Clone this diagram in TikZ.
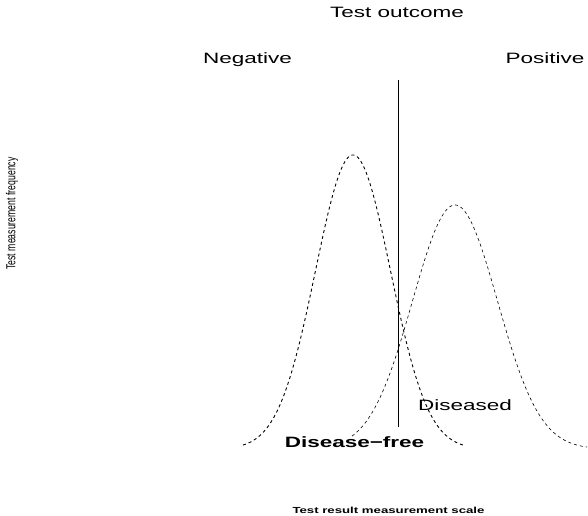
\documentclass[tikz,border=0pt]{standalone}
\usepackage{fontspec}
\setmainfont{Liberation Sans}
\usepackage{graphicx}
\tikzset{
  lbl/.style={inner sep=0pt, anchor=base},
  curveA/.style={line width=0.9pt, dash pattern=on 3pt off 3pt},
  curveB/.style={line width=0.6pt, dash pattern=on 3pt off 3pt},
  cutline/.style={line width=0.8pt}
}
\newcommand{\wide}[1]{\scalebox{1.5}[1]{#1}}
\begin{document}
\begin{tikzpicture}[x=1pt,y=1pt]
\useasboundingbox (0,0) rectangle (588,515);
% titles
\node[lbl] (title) at (397,497) {\wide{\fontsize{15}{18}\selectfont Test outcome}};
\node[lbl] (neg) at (247.5,451.5) {\wide{\fontsize{15}{18}\selectfont Negative}};
\node[lbl] (pos) at (545,451) {\wide{\fontsize{15}{18}\selectfont Positive}};
% axis labels
\node[lbl] (xlab) at (388.5,2) {\wide{\fontsize{8.8}{10}\selectfont\bfseries Test result measurement scale}};
\node[rotate=90, inner sep=0pt] (ylab) at (12,301.5) {\scalebox{1}[1.5]{\fontsize{8.7}{10}\selectfont Test measurement frequency}};
% cut-off line
\coordinate (ctop) at (398.5,435);
\coordinate (cbot) at (398.5,88);
\draw[cutline] (ctop) -- (cbot);
% distributions
\draw[curveA] plot[domain=243:463, samples=160, smooth] (\x, {66+294*exp(-0.5*((\x-353)/37.5)^2)});
\draw[curveB] plot[domain=352:587, samples=160, smooth] (\x, {66+244*exp(-0.5*((\x-455)/42.5)^2)});
% curve labels
\node[lbl] (free) at (354.5,68) {\wide{\fontsize{15}{18}\selectfont\bfseries Disease−free}};
\node[lbl] (dis) at (465,105) {\wide{\fontsize{15}{18}\selectfont Diseased}};
\end{tikzpicture}
\end{document}
